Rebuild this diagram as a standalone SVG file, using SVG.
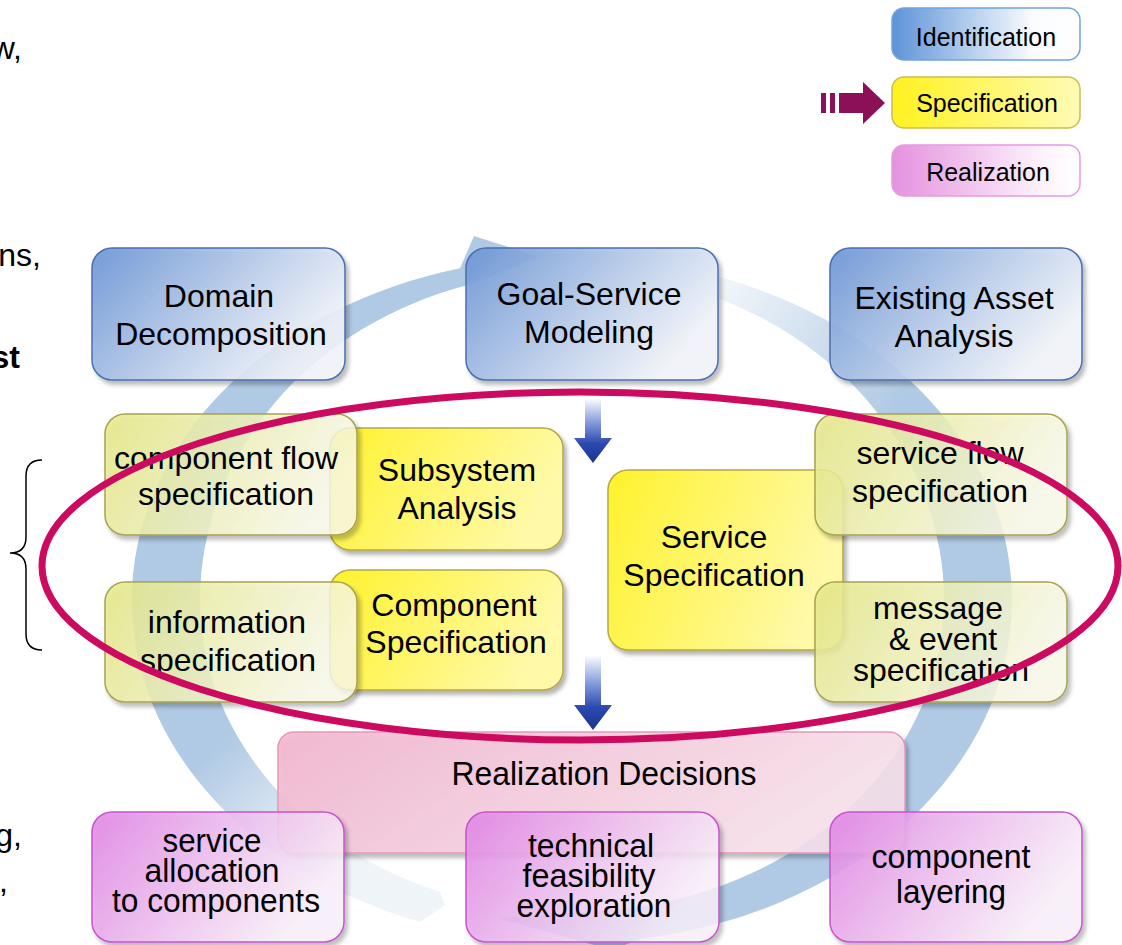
<svg xmlns="http://www.w3.org/2000/svg" width="1122" height="945" viewBox="0 0 1122 945">
<style>
text{font-family:"Liberation Sans",Arial,sans-serif;fill:#000;text-anchor:middle}
.t32{font-size:32px}
.t34{font-size:33px}
.lg{font-size:25px}
.side{font-size:32px;text-anchor:end}
.blue{fill:url(#gBlue);stroke:#4a6fae;stroke-width:1.5}
.pale{fill:url(#gPale);stroke:#a8a350;stroke-width:1.5}
.yel{fill:url(#gYel);stroke:#b5a843;stroke-width:1.5}
.rdec{fill:url(#gRdec);stroke:#e896b8;stroke-width:1.5}
.real{fill:url(#gReal);stroke:#c854cc;stroke-width:1.5}
.sh{filter:url(#shadow)}
</style>
<defs>
<filter id="shadow" x="-10%" y="-10%" width="125%" height="130%">
<feDropShadow dx="3" dy="4" stdDeviation="2" flood-color="#000" flood-opacity="0.3"/>
</filter>
<linearGradient id="gBlue" x1="0" y1="0" x2="1" y2="0.5">
<stop offset="0" stop-color="#6b95d6" stop-opacity="0.92"/>
<stop offset="1" stop-color="#f4f7fc" stop-opacity="0.85"/>
</linearGradient>
<linearGradient id="gPale" x1="0" y1="0" x2="1" y2="0.3">
<stop offset="0" stop-color="#e6e985" stop-opacity="0.85"/>
<stop offset="1" stop-color="#fcfcec" stop-opacity="0.8"/>
</linearGradient>
<linearGradient id="gYel" x1="0" y1="0" x2="1" y2="0.3">
<stop offset="0" stop-color="#fff22c"/>
<stop offset="1" stop-color="#fff9a8"/>
</linearGradient>
<linearGradient id="gRdec" x1="0" y1="0" x2="1" y2="0.3">
<stop offset="0" stop-color="#f2b6cf" stop-opacity="0.9"/>
<stop offset="1" stop-color="#fae2ed" stop-opacity="0.85"/>
</linearGradient>
<linearGradient id="gReal" x1="0" y1="0" x2="1" y2="0.4">
<stop offset="0" stop-color="#e286e6" stop-opacity="0.9"/>
<stop offset="1" stop-color="#fdf4fd" stop-opacity="0.8"/>
</linearGradient>
<linearGradient id="gLgBlue" x1="0" y1="0" x2="1" y2="0">
<stop offset="0" stop-color="#5e93d8"/>
<stop offset="0.75" stop-color="#fafcff"/>
<stop offset="1" stop-color="#ffffff"/>
</linearGradient>
<linearGradient id="gLgYel" x1="0" y1="0" x2="1" y2="0">
<stop offset="0" stop-color="#fff21f"/>
<stop offset="1" stop-color="#fffbb5"/>
</linearGradient>
<linearGradient id="gLgReal" x1="0" y1="0" x2="1" y2="0">
<stop offset="0" stop-color="#e591df"/>
<stop offset="0.8" stop-color="#fdf3fc"/>
<stop offset="1" stop-color="#ffffff"/>
</linearGradient>
<linearGradient id="gDown" x1="0" y1="0" x2="0" y2="1">
<stop offset="0" stop-color="#ffffff"/>
<stop offset="0.35" stop-color="#8da2df"/>
<stop offset="0.7" stop-color="#2c49b0"/>
<stop offset="1" stop-color="#1c348c"/>
</linearGradient>
<linearGradient id="gRingA" gradientUnits="userSpaceOnUse" x1="300" y1="865" x2="205" y2="760">
<stop offset="0" stop-color="#8fb3d9" stop-opacity="0.14"/>
<stop offset="1" stop-color="#8fb3d9" stop-opacity="0.7"/>
</linearGradient>
<linearGradient id="gRingB" gradientUnits="userSpaceOnUse" x1="700" y1="270" x2="900" y2="400">
<stop offset="0" stop-color="#8fb3d9" stop-opacity="0.05"/>
<stop offset="1" stop-color="#8fb3d9" stop-opacity="0.7"/>
</linearGradient>
</defs>

<g id="cycle">
<path fill="url(#gRingA)" d="M445,905 L420,922 A440,343 0 0 1 460,268.3 L474,236 L540,257 L470,284.6 A372,328 0 0 0 200,600 A372,312 0 0 0 440,891.7 Z"/>
<path fill="url(#gRingB)" d="M690,269.6 A440,343 0 0 1 640,938.9 L612,950 L497,918 L630,908.2 A372,312 0 0 0 944,600 A372,328 0 0 0 690,289 Z"/>
</g>

<g id="n-domain">
<rect class="blue sh" x="92" y="248" width="253" height="132" rx="20"/>
<text class="t32" x="219" y="307">Domain</text>
<text class="t32" x="221" y="345">Decomposition</text>
</g>
<g id="n-goal">
<rect class="blue sh" x="466" y="248" width="252" height="132" rx="20"/>
<text class="t32" x="589" y="305">Goal-Service</text>
<text class="t32" x="589" y="343">Modeling</text>
</g>
<g id="n-asset">
<rect class="blue sh" x="830" y="248" width="252" height="132" rx="20"/>
<text class="t32" x="954" y="309">Existing Asset</text>
<text class="t32" x="954" y="347">Analysis</text>
</g>

<g id="n-subsystem">
<rect class="yel sh" x="330" y="428" width="233" height="122" rx="20"/>
<text class="t32" x="457" y="481">Subsystem</text>
<text class="t32" x="457" y="519">Analysis</text>
</g>
<g id="n-compspec">
<rect class="yel sh" x="330" y="570" width="233" height="120" rx="20"/>
<text class="t32" x="454" y="616">Component</text>
<text class="t32" x="456" y="653">Specification</text>
</g>
<g id="n-compflow">
<rect class="pale sh" x="105" y="414" width="252" height="121" rx="20"/>
<text class="t32" x="226" y="469">component flow</text>
<text class="t32" x="226" y="505">specification</text>
</g>
<g id="n-info">
<rect class="pale sh" x="105" y="582" width="252" height="120" rx="20"/>
<text class="t32" x="227" y="633">information</text>
<text class="t32" x="228" y="671">specification</text>
</g>
<g id="n-servspec">
<rect class="yel sh" x="608" y="470" width="235" height="180" rx="20"/>
<text class="t32" x="714" y="548">Service</text>
<text class="t32" x="714" y="586">Specification</text>
</g>
<g id="n-servflow">
<rect class="pale sh" x="815" y="414" width="252" height="121" rx="20"/>
<text class="t32" x="940" y="464">service flow</text>
<text class="t32" x="940" y="502">specification</text>
</g>
<g id="n-msg">
<rect class="pale sh" x="815" y="582" width="252" height="120" rx="20"/>
<text class="t32" x="938" y="619">message</text>
<text class="t32" x="943" y="650">&amp; event</text>
<text class="t32" x="941" y="681">specification</text>
</g>

<g id="n-realdec">
<rect class="rdec sh" x="278" y="732" width="627" height="121" rx="16"/>
<text class="t34" x="604" y="785" textLength="305" lengthAdjust="spacingAndGlyphs">Realization Decisions</text>
</g>
<g id="n-alloc">
<rect class="real sh" x="92" y="812" width="252" height="130" rx="20"/>
<text class="t34" x="212" y="852" textLength="99" lengthAdjust="spacingAndGlyphs">service</text>
<text class="t34" x="212" y="882" textLength="135" lengthAdjust="spacingAndGlyphs">allocation</text>
<text class="t34" x="216" y="912" textLength="208" lengthAdjust="spacingAndGlyphs">to components</text>
</g>
<g id="n-tech">
<rect class="real sh" x="466" y="812" width="253" height="130" rx="20"/>
<text class="t34" x="591" y="857" textLength="126" lengthAdjust="spacingAndGlyphs">technical</text>
<text class="t34" x="589" y="887" textLength="133" lengthAdjust="spacingAndGlyphs">feasibility</text>
<text class="t34" x="594" y="917" textLength="155" lengthAdjust="spacingAndGlyphs">exploration</text>
</g>
<g id="n-layer">
<rect class="real sh" x="830" y="812" width="252" height="130" rx="20"/>
<text class="t34" x="951" y="868" textLength="159" lengthAdjust="spacingAndGlyphs">component</text>
<text class="t34" x="951" y="903" textLength="110" lengthAdjust="spacingAndGlyphs">layering</text>
</g>

<g id="connectors">
<path fill="url(#gDown)" d="M585,398 H601 V438 H612 L593,463 L574,438 H585 Z"/>
<path fill="url(#gDown)" d="M585,655 H601 V705 H612 L593,730 L574,705 H585 Z"/>
</g>

<g id="highlight">
<ellipse cx="580" cy="566" rx="538" ry="174" fill="none" stroke="#cc0a5f" stroke-width="7"/>
</g>

<g id="legend">
<g id="lg-identification">
<rect x="892" y="8" width="188" height="52" rx="12" fill="url(#gLgBlue)" stroke="#6fa4dc" stroke-width="1.5"/>
<text class="lg" x="986" y="46">Identification</text>
</g>
<g id="lg-specification">
<rect x="892" y="77" width="188" height="51" rx="12" fill="url(#gLgYel)" stroke="#c8c050" stroke-width="1.5"/>
<text class="lg" x="987" y="112">Specification</text>
</g>
<g id="lg-realization">
<rect x="892" y="145" width="188" height="51" rx="12" fill="url(#gLgReal)" stroke="#e89ae2" stroke-width="1.5"/>
<text class="lg" x="988" y="181">Realization</text>
</g>
<g id="lg-arrow" fill="#8c1057">
<rect x="821" y="93" width="5" height="20"/>
<rect x="830" y="93" width="5" height="20"/>
<path d="M839,93 H863 V82 L885,103 L863,124 V113 H839 Z"/>
</g>
</g>

<g id="margin">
<text class="side" x="22" y="59">w,</text>
<text class="side" x="41" y="266">ns,</text>
<text class="side" x="20" y="368" font-weight="bold">st</text>
<path d="M42,460 Q26,460 26,476 V537 Q26,553 10,553 Q26,553 26,569 V634 Q26,650 42,650" fill="none" stroke="#000" stroke-width="1.5"/>
<text class="side" x="22" y="846">g,</text>
<text class="side" x="8" y="892">,</text>
</g>
</svg>
